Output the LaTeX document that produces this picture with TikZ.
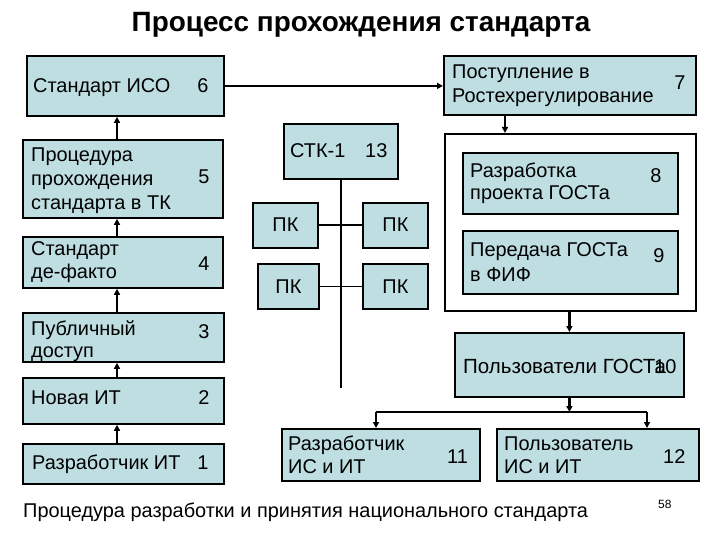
\documentclass[tikz,border=0pt]{standalone}
\usepackage{fontspec}
\setmainfont{Liberation Sans}
\usetikzlibrary{arrows.meta}
\definecolor{boxfill}{RGB}{190,222,226}
\newcommand\bx[5]{\node[box,minimum width={(#4-#2)*1bp},minimum height={(#5-#3)*1bp}] (#1) at (#2,#3) {};}
\begin{document}
\begin{tikzpicture}[x=1bp,y=-1bp,
  box/.style={draw=black,line width=1.8bp,fill=boxfill,inner sep=0pt,anchor=north west},
  txt/.style={anchor=base west,inner sep=0pt,font=\fontsize{20}{24}\selectfont},
  num/.style={anchor=base,inner sep=0pt,font=\fontsize{20}{24}\selectfont},
  arr/.style={line width=2.4bp,-{Triangle[length=6bp,width=6bp]}},
  ln/.style={line width=1.8bp}]
\useasboundingbox[fill=white] (0,0) rectangle (720,540);
% title
\node[anchor=base,inner sep=0pt,font=\bfseries\fontsize{28}{32}\selectfont] (title) at (361,32) {Процесс прохождения стандарта};
% left column
\bx{b6}{26}{55}{223}{115}
\bx{b5}{22}{139}{222}{217}
\bx{b4}{22}{236}{222}{287}
\bx{b3}{22}{312}{223}{361}
\bx{b2}{22}{377}{223}{423}
\bx{b1}{22}{443}{223}{483}
% right part
\bx{b7}{443}{55}{695}{114}
\node[box,fill=white,minimum width=251bp,minimum height=177bp] (cont) at (444,133) {};
\bx{b8}{462}{152}{677}{213}
\bx{b9}{462}{230}{677}{293}
\bx{stk}{283}{123}{397}{178}
\bx{pk1}{252}{202}{317}{247}
\bx{pk2}{362}{202}{427}{247}
\bx{pk3}{257}{263}{318}{308}
\bx{pk4}{362}{263}{427}{308}
\bx{b10}{454}{332}{683}{396}
\bx{b11}{281}{428}{479}{480}
\bx{b12}{496}{428}{698}{480}
% texts
\node[txt] (t6) at (33,93) {Стандарт ИСО};
\node[num] (n6) at (203,93) {6};
\node[txt] (t5a) at (31,162) {Процедура};
\node[txt] (t5b) at (31,186) {прохождения};
\node[txt] (t5c) at (31,210) {стандарта в ТК};
\node[num] (n5) at (204,184) {5};
\node[txt] (t4a) at (31,256) {Стандарт};
\node[txt] (t4b) at (31,279) {де-факто};
\node[num] (n4) at (204,271) {4};
\node[txt] (t3a) at (31,335) {Публичный};
\node[txt] (t3b) at (31,357) {доступ};
\node[num] (n3) at (204,338) {3};
\node[txt] (t2) at (31,404) {Новая ИТ};
\node[num] (n2) at (204,404) {2};
\node[txt] (t1) at (32,469) {Разработчик ИТ};
\node[num] (n1) at (203,469) {1};
\node[txt] (t7a) at (452,79) {Поступление в};
\node[txt] (t7b) at (452,103) {Ростехрегулирование};
\node[num] (n7) at (680,90) {7};
\node[txt] (tstk) at (290,158) {СТК-1};
\node[txt] (nstk) at (365,158) {13};
\node[num] (tpk1) at (pk1.center |- 0,232) {ПК};
\node[num] (tpk2) at (pk2.center |- 0,232) {ПК};
\node[num] (tpk3) at (pk3.center |- 0,293) {ПК};
\node[num] (tpk4) at (pk4.center |- 0,293) {ПК};
\node[txt] (t8a) at (470,178) {Разработка};
\node[txt] (t8b) at (470,200) {проекта ГОСТа};
\node[num] (n8) at (656,183) {8};
\node[txt] (t9a) at (470,257) {Передача ГОСТа};
\node[txt] (t9b) at (470,282) {в ФИФ};
\node[num] (n9) at (659,263) {9};
\node[txt,font=\fontsize{20.6}{24}\selectfont] (t10) at (463,373) {Пользователи ГОСТа};
\node[txt] (n10) at (654,373) {10};
\node[txt] (t11a) at (288,450) {Разработчик};
\node[txt] (t11b) at (288,473) {ИС и ИТ};
\node[txt] (n11) at (447,463) {11};
\node[txt] (t12a) at (504,450) {Пользователь};
\node[txt] (t12b) at (504,473) {ИС и ИТ};
\node[txt] (n12) at (663,463) {12};
% caption and page number
\node[anchor=base west,inner sep=0pt,font=\fontsize{20}{24}\selectfont] (cap) at (23,517) {Процедура разработки и принятия национального стандарта};
\node[anchor=base west,inner sep=0pt,font=\fontsize{12}{14}\selectfont] (pg) at (658,508) {58};
% connectors
\coordinate (ax) at (117,0);
\draw[arr] (b5.north -| ax) -- (b6.south -| ax);
\draw[arr] (b4.north -| ax) -- (b5.south -| ax);
\draw[arr] (b3.north -| ax) -- (b4.south -| ax);
\draw[arr] (b2.north -| ax) -- (b3.south -| ax);
\draw[arr] (b1.north -| ax) -- (b2.south -| ax);
\draw[arr] (b6.east) -- (b6.east -| b7.west);
\coordinate (ax2) at (505,0);
\draw[arr] (b7.south -| ax2) -- (cont.north -| ax2);
\draw[arr] (cont.south -| b10.north) -- (b10.north);
\coordinate (jy) at (0,412);
\coordinate (jl) at (376,412);
\coordinate (jr) at (647,412);
\draw[arr] (b10.south) -- (b10.south |- jy);
\draw[ln] (jl) -- (jr);
\draw[arr] (jl) -- (jl |- b11.north);
\draw[arr] (jr) -- (jr |- b12.north);
\coordinate (sb) at (0,388);
\draw[ln] (stk.south) -- (stk.south |- sb);
\draw[ln] (pk1.east) -- (pk2.west);
\draw[ln] (pk3.east) -- (pk4.west);
\end{tikzpicture}
\end{document}
